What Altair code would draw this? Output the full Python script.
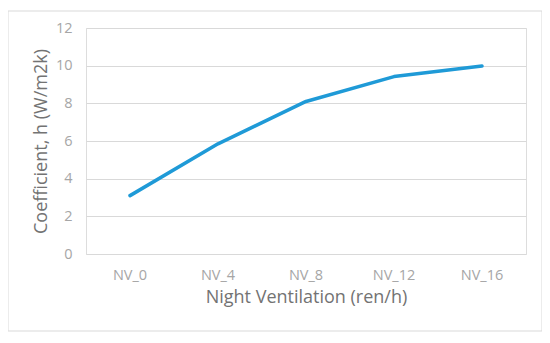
import altair as alt
import pandas as pd

categories = ["NV_0", "NV_4", "NV_8", "NV_12", "NV_16"]
values = [3.1, 5.85, 8.1, 9.42, 9.98]

df = pd.DataFrame({"cat": categories, "h": values})

FONT = "Open Sans"

border = alt.Chart(pd.DataFrame({"d": [0]})).mark_rect(
    fillOpacity=0, stroke="#D9D9D9", strokeWidth=1, clip=False
).encode(
    x=alt.value(-78), x2=alt.value(456), y=alt.value(-17), y2=alt.value(303)
)

line = alt.Chart(df).mark_line(color="#1F9AD7", strokeWidth=3.5, strokeCap="round", strokeJoin="round").encode(
    x=alt.X("cat:N", sort=categories,
            scale=alt.Scale(type="band", paddingInner=0, paddingOuter=0),
            axis=alt.Axis(title="Night Ventilation (ren/h)", labelAngle=0,
                          domain=False, ticks=False, grid=False,
                          labelPadding=14, titlePadding=7,
                          labelFont=FONT, labelFontSize=14.5, labelColor="#A6A6A6",
                          titleFont=FONT, titleFontSize=18, titleColor="#737373",
                          titleFontWeight="normal")),
    y=alt.Y("h:Q", scale=alt.Scale(domain=[0, 12], nice=False),
            axis=alt.Axis(title="Coefficient, h (W/m2k)", values=[0, 2, 4, 6, 8, 10, 12],
                          domain=False, ticks=False, grid=True, gridColor="#D9D9D9",
                          gridWidth=1, labelPadding=14, titlePadding=5,
                          labelFont=FONT, labelFontSize=14.5, labelColor="#A6A6A6",
                          titleFont=FONT, titleFontSize=18, titleColor="#737373",
                          titleFontWeight="normal")),
)

chart = alt.layer(border, line).properties(
    width=440, height=226,
    autosize=alt.AutoSizeParams(type="none"),
    padding={"left": 78, "top": 20, "right": 16, "bottom": 80},
).configure_view(stroke=None).configure(background="white")

chart.save("out.html", embed_options={"renderer": "svg", "actions": False})
